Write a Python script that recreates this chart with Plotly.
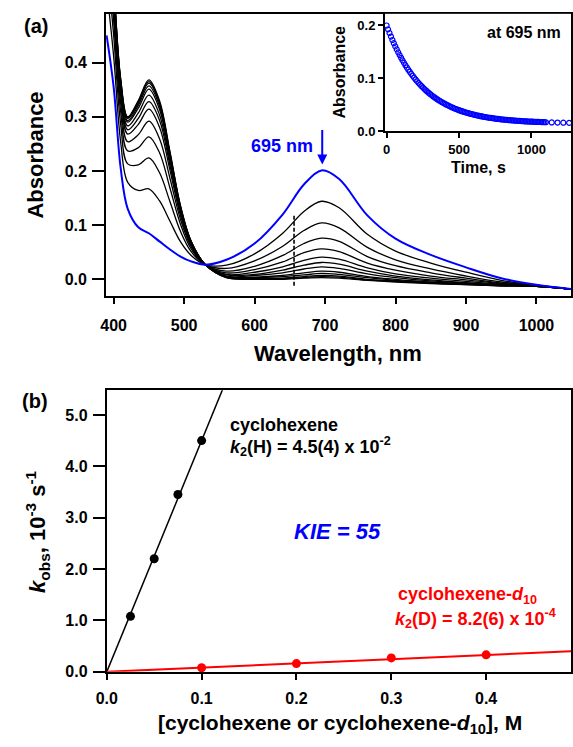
import plotly.graph_objects as go

# ---------------- data: panel (a) spectra ----------------
wavelength = [390, 400, 410, 420, 435, 450, 465, 480, 495, 510, 530, 560,
              600, 640, 670, 695, 720, 760, 800, 850, 900, 950, 1000, 1049]

abs_initial = [0.45, 0.355, 0.205, 0.13, 0.096, 0.085, 0.07, 0.055, 0.042, 0.033, 0.027, 0.036,
               0.066, 0.12, 0.175, 0.201, 0.185, 0.118, 0.075, 0.045, 0.022, 0.002, -0.010, -0.018]

scan_01 = [0.537, 0.412, 0.253, 0.179, 0.164, 0.167, 0.145, 0.107, 0.069, 0.044, 0.027, 0.026,
           0.047, 0.085, 0.125, 0.144, 0.132, 0.083, 0.052, 0.030, 0.013, -0.002, -0.011, -0.018]
scan_02 = [0.597, 0.451, 0.286, 0.213, 0.211, 0.224, 0.197, 0.143, 0.088, 0.051, 0.027, 0.020,
           0.034, 0.061, 0.090, 0.104, 0.095, 0.059, 0.036, 0.019, 0.006, -0.005, -0.011, -0.018]
scan_03 = [0.639, 0.478, 0.309, 0.237, 0.243, 0.263, 0.234, 0.168, 0.101, 0.056, 0.027, 0.015,
           0.024, 0.044, 0.066, 0.076, 0.070, 0.042, 0.025, 0.012, 0.002, -0.007, -0.012, -0.018]
scan_04 = [0.669, 0.497, 0.325, 0.254, 0.267, 0.292, 0.260, 0.186, 0.110, 0.060, 0.027, 0.012,
           0.018, 0.032, 0.049, 0.056, 0.051, 0.030, 0.017, 0.006, -0.001, -0.008, -0.012, -0.018]
scan_05 = [0.693, 0.513, 0.339, 0.268, 0.286, 0.314, 0.281, 0.201, 0.117, 0.063, 0.027, 0.009,
           0.013, 0.023, 0.035, 0.041, 0.037, 0.021, 0.010, 0.002, -0.004, -0.009, -0.012, -0.018]
scan_06 = [0.708, 0.523, 0.347, 0.276, 0.297, 0.328, 0.294, 0.210, 0.122, 0.065, 0.027, 0.008,
           0.009, 0.017, 0.026, 0.031, 0.028, 0.015, 0.006, -0.001, -0.006, -0.010, -0.013, -0.018]
scan_07 = [0.720, 0.531, 0.354, 0.283, 0.307, 0.340, 0.304, 0.217, 0.126, 0.066, 0.027, 0.006,
           0.007, 0.012, 0.019, 0.023, 0.020, 0.010, 0.003, -0.003, -0.007, -0.011, -0.013, -0.018]
scan_08 = [0.732, 0.538, 0.360, 0.290, 0.316, 0.351, 0.314, 0.224, 0.129, 0.068, 0.027, 0.005,
           0.004, 0.007, 0.012, 0.015, 0.013, 0.005, 0.000, -0.005, -0.008, -0.011, -0.013, -0.018]
scan_09 = [0.738, 0.542, 0.363, 0.293, 0.321, 0.357, 0.320, 0.228, 0.131, 0.069, 0.027, 0.004,
           0.003, 0.005, 0.008, 0.011, 0.009, 0.003, -0.002, -0.006, -0.009, -0.011, -0.013, -0.018]
scan_10 = [0.744, 0.546, 0.367, 0.297, 0.325, 0.362, 0.325, 0.231, 0.133, 0.069, 0.027, 0.004,
           0.001, 0.002, 0.005, 0.007, 0.006, 0.000, -0.003, -0.007, -0.009, -0.012, -0.013, -0.018]
scan_11 = [0.747, 0.548, 0.368, 0.298, 0.328, 0.365, 0.327, 0.233, 0.134, 0.070, 0.027, 0.003,
           0.001, 0.001, 0.003, 0.005, 0.004, -0.001, -0.004, -0.007, -0.010, -0.012, -0.013, -0.018]
scan_12 = [0.750, 0.550, 0.370, 0.300, 0.330, 0.368, 0.330, 0.235, 0.135, 0.070, 0.027, 0.003,
           0.000, 0.000, 0.002, 0.003, 0.002, -0.002, -0.005, -0.008, -0.010, -0.012, -0.013, -0.018]

scans = [scan_01, scan_02, scan_03, scan_04, scan_05, scan_06,
         scan_07, scan_08, scan_09, scan_10, scan_11, scan_12]

# detector/lamp switch-over artefact seen in every scan
artifact_nm = [656, 656]
artifact_abs = [-0.012, 0.12]

# ---------------- data: inset (kinetic trace at 695 nm) ----------------
time_s = [0, 10, 20, 30, 40, 50, 60, 70, 80, 90, 100, 110, 120, 130, 140, 150, 160, 170, 180, 190,
          200, 210, 220, 230, 240, 250, 260, 270, 280, 290, 300, 310, 320, 330, 340, 350, 360, 370,
          380, 390, 400, 410, 420, 430, 440, 450, 460, 470, 480, 490, 500, 510, 520, 530, 540, 550,
          560, 570, 580, 590, 600, 610, 620, 630, 640, 650, 660, 670, 680, 690, 700, 710, 720, 730,
          740, 750, 760, 770, 780, 790, 800, 810, 820, 830, 840, 850, 860, 870, 880, 890, 900, 910,
          920, 930, 940, 950, 960, 970, 980, 990, 1000, 1010, 1020, 1030, 1040, 1050, 1060, 1070,
          1080, 1090, 1100, 1140, 1180, 1220, 1260]
abs_695 = [0.2000, 0.1927, 0.1858, 0.1791, 0.1726, 0.1665, 0.1605, 0.1548, 0.1493, 0.1441,
           0.1390, 0.1341, 0.1295, 0.1250, 0.1207, 0.1165, 0.1126, 0.1087, 0.1051, 0.1015,
           0.0981, 0.0949, 0.0917, 0.0887, 0.0858, 0.0831, 0.0804, 0.0778, 0.0754, 0.0730,
           0.0707, 0.0685, 0.0664, 0.0644, 0.0625, 0.0606, 0.0588, 0.0571, 0.0555, 0.0539,
           0.0524, 0.0509, 0.0495, 0.0481, 0.0468, 0.0456, 0.0444, 0.0432, 0.0421, 0.0411,
           0.0400, 0.0391, 0.0381, 0.0372, 0.0363, 0.0355, 0.0347, 0.0339, 0.0332, 0.0325,
           0.0318, 0.0311, 0.0305, 0.0299, 0.0293, 0.0287, 0.0282, 0.0277, 0.0272, 0.0267,
           0.0262, 0.0258, 0.0254, 0.0250, 0.0246, 0.0242, 0.0238, 0.0235, 0.0232, 0.0228,
           0.0225, 0.0223, 0.0220, 0.0217, 0.0214, 0.0212, 0.0209, 0.0207, 0.0205, 0.0203,
           0.0201, 0.0199, 0.0197, 0.0195, 0.0193, 0.0191, 0.0190, 0.0188, 0.0187, 0.0185,
           0.0184, 0.0183, 0.0181, 0.0180, 0.0179, 0.0178, 0.0177, 0.0176, 0.0175, 0.0174,
           0.0173, 0.0169, 0.0167, 0.0164, 0.0162]

# ---------------- data: panel (b) ----------------
conc_H = [0.025, 0.05, 0.075, 0.1]
kobs_H = [1.08, 2.20, 3.45, 4.50]
conc_D = [0.1, 0.2, 0.3, 0.4]
kobs_D = [0.08, 0.16, 0.27, 0.33]
k2_H = 45.0   # 10^-3 s^-1 M^-1 (4.5 x 10^-2)
k2_D = 0.82   # 10^-3 s^-1 M^-1 (8.2 x 10^-4)
fit_conc = [0.0, 0.49]

# ---------------- figure ----------------
W, H = 573, 747
FONT = "Arial, Liberation Sans, sans-serif"
BLUE = "#0000ff"
RED = "#ff0000"

def px(x):
    return x / W

def py(y):
    return 1 - y / H

fig = go.Figure()

for s in scans:
    fig.add_trace(go.Scatter(x=wavelength, y=s, mode="lines",
                             line=dict(color="black", width=1.3, shape="spline", smoothing=1.0),
                             xaxis="x", yaxis="y", showlegend=False, hoverinfo="skip"))
fig.add_trace(go.Scatter(x=artifact_nm, y=artifact_abs, mode="lines",
                         line=dict(color="black", width=1.6, dash="4px,2px"),
                         xaxis="x", yaxis="y", showlegend=False, hoverinfo="skip"))
fig.add_trace(go.Scatter(x=wavelength, y=abs_initial, mode="lines",
                         line=dict(color=BLUE, width=2, shape="spline", smoothing=1.0),
                         xaxis="x", yaxis="y", showlegend=False))

# inset
fig.add_trace(go.Scatter(x=time_s, y=abs_695, mode="markers",
                         marker=dict(symbol="circle-open", size=5, color=BLUE, line=dict(width=1.2)),
                         xaxis="x3", yaxis="y3", showlegend=False))

# panel b
fig.add_trace(go.Scatter(x=fit_conc, y=[k2_H * c for c in fit_conc], mode="lines",
                         line=dict(color="black", width=1.5), xaxis="x2", yaxis="y2", showlegend=False))
fig.add_trace(go.Scatter(x=fit_conc, y=[k2_D * c for c in fit_conc], mode="lines",
                         line=dict(color=RED, width=2), xaxis="x2", yaxis="y2", showlegend=False))
fig.add_trace(go.Scatter(x=conc_H, y=kobs_H, mode="markers",
                         marker=dict(size=9, color="black"), xaxis="x2", yaxis="y2", showlegend=False))
fig.add_trace(go.Scatter(x=conc_D, y=kobs_D, mode="markers",
                         marker=dict(size=9, color=RED), cliponaxis=False,
                         xaxis="x2", yaxis="y2", showlegend=False))

tickfont = dict(family=FONT, size=16, color="black", weight="bold")
tickfont_small = dict(family=FONT, size=13, color="black", weight="bold")
axcommon = dict(showline=True, linewidth=2, linecolor="black", ticks="outside",
                tickwidth=2, tickcolor="black", showgrid=False, zeroline=False)

fig.update_layout(
    width=W, height=H, margin=dict(l=0, r=0, t=0, b=0),
    paper_bgcolor="white", plot_bgcolor="white", showlegend=False,
    xaxis=dict(domain=[px(97.3), 1.0], range=[389.3, 1049], anchor="y",
               tickvals=[400, 500, 600, 700, 800, 900, 1000], ticklen=6, mirror=True,
               tickfont=tickfont, ticklabelstandoff=8, **axcommon),
    yaxis=dict(domain=[py(299.3), py(14)], range=[-0.0303, 0.49], anchor="x",
               tickvals=[0, 0.1, 0.2, 0.3, 0.4], ticktext=["0.0", "0.1", "0.2", "0.3", "0.4"],
               ticklen=12, mirror=True, tickfont=tickfont, ticklabelstandoff=2, **axcommon),
    xaxis3=dict(domain=[px(382.7), 1.0], range=[-11, 1273], anchor="y3",
                tickvals=[0, 500, 1000], ticklen=5, tickfont=tickfont_small, **axcommon),
    yaxis3=dict(domain=[py(133), py(14)], range=[0, 0.222], anchor="x3",
                tickvals=[0, 0.1, 0.2], ticktext=["0.0", "0.1", "0.2"], ticklen=5,
                tickfont=tickfont_small, **axcommon),
    xaxis2=dict(domain=[px(98.0), 1.0], range=[0, 0.4895], anchor="y2",
                tickvals=[0, 0.1, 0.2, 0.3, 0.4], ticktext=["0.0", "0.1", "0.2", "0.3", "0.4"],
                ticklen=6, mirror=True, tickfont=tickfont, ticklabelstandoff=5, **axcommon),
    yaxis2=dict(domain=[py(680), py(395)], range=[0, 5.48], anchor="x2",
                tickvals=[0, 1, 2, 3, 4, 5], ticktext=["0.0", "1.0", "2.0", "3.0", "4.0", "5.0"],
                ticklen=12, mirror=True, tickfont=tickfont, ticklabelstandoff=2, **axcommon),
)

def txt(x, y, text, size, color="black", angle=0, xanchor="center", yanchor="middle"):
    fig.add_annotation(x=px(x), y=py(y), xref="paper", yref="paper", text=text, showarrow=False,
                       textangle=angle, xanchor=xanchor, yanchor=yanchor, borderpad=0,
                       font=dict(family=FONT, size=size, color=color))

# panel labels
txt(26, 26, "<b>(a)</b>", 20)
txt(25, 406, "<b>(b)</b>", 20)

# panel a titles
txt(25, 157, "<b>Absorbance</b>", 22, angle=-90)
txt(335, 358, "<b>Wavelength, nm</b>", 22)
txt(277, 148, "<b>695 nm</b>", 18, color=BLUE)
fig.add_annotation(x=696, y=0.212, xref="x", yref="y", ax=0, ay=-36, axref="pixel", ayref="pixel",
                   showarrow=True, arrowhead=2, arrowsize=1, arrowwidth=2, arrowcolor=BLUE, text="")

# inset titles
txt(336, 73, "<b>Absorbance</b>", 16, angle=-90)
txt(478, 170, "<b>Time, s</b>", 16)
txt(525, 33, "<b>at 695 nm</b>", 16)

# panel b titles
txt(27, 538, "<b><i>k</i><sub>obs</sub>, 10<sup>-3</sup> s<sup>-1</sup></b>", 22, angle=-90)
txt(337, 747, "<b>[cyclohexene or cyclohexene-<i>d</i><sub>10</sub>], M</b>", 21, yanchor="bottom")
txt(223, 430, "<b>cyclohexene</b>", 18, xanchor="left")
txt(223, 452, "<b><i>k</i><sub>2</sub>(H) = 4.5(4) x 10<sup>-2</sup></b>", 18, xanchor="left")
txt(334, 538, "<b><i>KIE = 55</i></b>", 22, color=BLUE)
txt(395, 603, "<b>cyclohexene-<i>d</i><sub>10</sub></b>", 18, color=RED, xanchor="left")
txt(392, 626, "<b><i>k</i><sub>2</sub>(D) = 8.2(6) x 10<sup>-4</sup></b>", 18, color=RED, xanchor="left")

fig.write_html("out.html", config={"displayModeBar": False},
               post_script="document.body.style.margin='0';document.body.style.overflow='hidden';")
